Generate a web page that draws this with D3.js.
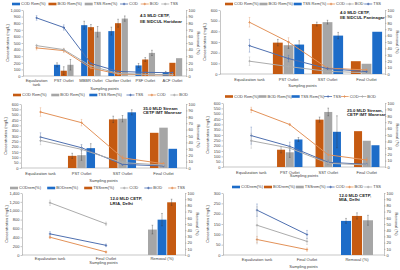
<!DOCTYPE html>
<html>
<head>
<meta charset="utf-8">
<script src="https://cdn.jsdelivr.net/npm/d3@7"></script>
<style>
body { margin: 0; background: #fff; }
svg { display: block; font-family: "Liberation Sans", Arial, sans-serif; }
.axis path, .axis line { stroke: #8c8c8c; stroke-width: 0.5; }
.axis text { font-size: 4px; fill: #404040; }
</style>
</head>
<body>
<svg width="400" height="270"></svg>
<script>
// category sets
const catsSix = ['Equalization tank', 'PST Outlet', 'MBBR Outlet', 'Clarifier Outlet', 'PSF Outlet', 'ACF Outlet'];
const catsFour = ['Equalization tank', 'PST Outlet', 'SST Outlet', 'Final Outlet'];
const catsThree = ['Equalization tank', 'Final Outlet', 'Removal (%)'];

// 4.5 MLD CETP, IIE SIDCUL Haridwar
const hwCodRem = [null, 17, 77, 68, 16, 6];
const hwBodRem = [null, 8, 74, 80, 25, 20];
const hwTssRem = [null, 17, 67, 87, 35, 27];
const hwCod = [880, 735, 190, 70, 55, 50];
const hwBod = [425, 385, 120, 30, 18, 15];
const hwTss = [460, 400, 150, 40, 25, 20];
const hwRemErr = [[0, 3, 6, 6, 3, 1], [0, 6, 4, 6, 3, 0], [0, 8, 8, 4, 4, 0]];
const hwConcErr = [[35, 40, 0, 0, 0, 0], [30, 30, 0, 0, 0, 0], [20, 20, 0, 0, 0, 0]];

// 4.0 MLD CETP, IIE SIDCUL Pantnagar
const pnCodRem = [null, 49, 78, 20];
const pnBodRem = [null, 45, 81, 16];
const pnTssRem = [null, 46, 60, 66];
const pnCod = [485, 300, 55, 38];
const pnBod = [120, 70, 25, 12];
const pnTss = [265, 145, 50, 22];
const pnRemErr = [[0, 5, 3, 0], [0, 5, 3, 0], [0, 6, 5, 0]];
const pnConcErr = [[45, 40, 10, 5], [40, 30, 10, 5], [60, 30, 10, 5]];

// 35.0 MLD Stream CETP IMT Manesar
const m35CodRem = [null, 19, 76, 55];
const m35BodRem = [null, 20, 77, 63];
const m35TssRem = [null, 31, 87, 30];
const m35Cod = [525, 425, 95, 40];
const m35Bod = [258, 175, 50, 28];
const m35Tss = [290, 190, 34, 19];
const m35RemErr = [[0, 4, 5, 0], [0, 8, 5, 0], [0, 7, 4, 0]];
const m35ConcErr = [[40, 30, 20, 10], [40, 40, 10, 5], [40, 30, 10, 5]];

// 25.0 MLD Stream, CETP IMT Manesar
const m25CodRem = [null, 27, 74, 56];
const m25BodRem = [null, 23, 86, 41];
const m25TssRem = [null, 43, 55, 34];
const m25Cod = [535, 398, 114, 66];
const m25Bod = [246, 177, 35, 19];
const m25Tss = [294, 193, 44, 25];
const m25RemErr = [[0, 5, 4, 0], [0, 8, 6, 0], [0, 3, 25, 0]];
const m25ConcErr = [[25, 10, 40, 20], [70, 30, 20, 10], [80, 40, 20, 10]];

// 12.0 MLD CETP, LRIA, Delhi
const lrCodRem = [null, null, 41];
const lrBodRem = [null, null, 57];
const lrTssRem = [null, null, 85];
const lrCod = [1180, 704, null];
const lrBod = [477, 219, null];
const lrTss = [401, 68, null];
const lrRemErr = [[0, 0, 7], [0, 0, 10], [0, 0, 5]];
const lrConcErr = [[60, 40, 0], [50, 30, 0], [30, 20, 0]];

// 12.0 MLD CETP, MIA, Delhi
const miCodRem = [null, null, 55];
const miBodRem = [null, null, 63];
const miTssRem = [null, null, 56];
const miCod = [217, 99, null];
const miBod = [75, 26, null];
const miTss = [144, 66, null];
const miRemErr = [[0, 0, 4], [0, 0, 5], [0, 0, 8]];
const miConcErr = [[30, 20, 0], [15, 8, 0], [90, 15, 0]];

const BLUE = '#1d6cc8', ORANGE = '#c55a11', GRAY = '#a6a6a6';
const LBLUE = '#4f70b0', LORANGE = '#e39259', LGRAY = '#acacac';

const panels = [
    {
        cats: catsSix, axL: 23, axR: 186, top: 10, bot: 76, xr: [23, 186], ymax: 1000, ystep: 100, group: 0.72,
        bars: [['COD Rem(%)', hwCodRem, hwRemErr[0], BLUE], ['BOD Rem(%)', hwBodRem, hwRemErr[1], ORANGE], ['TSS Rem(%)', hwTssRem, hwRemErr[2], GRAY]],
        lines: [['COD', hwCod, hwConcErr[0], LBLUE], ['BOD', hwBod, hwConcErr[1], LORANGE], ['TSS', hwTss, hwConcErr[2], LGRAY]],
        legend: [12, 178, 4], title: ['4.5 MLD CETP,', 'IIE SIDCUL Haridwar'], tx: 140, ty: 16.5, tdy: 6,
        labY: 81.5, spY: 90, wrap: true
    },
    {
        cats: catsFour, axL: 220, axR: 385, top: 10, bot: 74, xr: [230, 386], ymax: 600, ystep: 100, group: 0.8,
        bars: [['COD Rem(%)', pnCodRem, pnRemErr[0], ORANGE], ['BOD Rem(%)', pnBodRem, pnRemErr[1], GRAY], ['TSS Rem(%)', pnTssRem, pnRemErr[2], BLUE]],
        lines: [['COD', pnCod, pnConcErr[0], LORANGE], ['BOD', pnBod, pnConcErr[1], LGRAY], ['TSS', pnTss, pnConcErr[2], LBLUE]],
        legend: [225, 381, 4], title: ['4.0 MLD CETP,', 'IIE SIDCUL Pantnagar'], tx: 340, ty: 14, tdy: 4.5,
        labY: 80.5, spY: 86.5
    },
    {
        cats: catsFour, axL: 21, axR: 186, top: 104, bot: 168, xr: [20, 184], ymax: 600, ystep: 50, group: 0.66,
        bars: [['COD Rem(%)', m35CodRem, m35RemErr[0], ORANGE], ['BOD Rem(%)', m35BodRem, m35RemErr[1], GRAY], ['TSS Rem(%)', m35TssRem, m35RemErr[2], BLUE]],
        lines: [['TSS', m35Tss, m35ConcErr[2], LBLUE], ['COD', m35Cod, m35ConcErr[0], LORANGE], ['BOD', m35Bod, m35ConcErr[1], LGRAY]],
        legend: [13, 188, 95], title: ['35.0 MLD Stream', 'CETP IMT Manesar'], tx: 143, ty: 109.5, tdy: 4.5,
        labY: 174.5, spY: 181.5
    },
    {
        cats: catsFour, axL: 223, axR: 385, top: 103, bot: 167, xr: [232, 386], ymax: 600, ystep: 50, group: 0.66,
        bars: [['COD Rem(%)', m25CodRem, m25RemErr[0], ORANGE], ['BOD Rem(%)', m25BodRem, m25RemErr[1], GRAY], ['TSS Rem(%)', m25TssRem, m25RemErr[2], BLUE]],
        lines: [['TSS', m25Tss, m25ConcErr[2], LBLUE], ['COD', m25Cod, m25ConcErr[0], LORANGE], ['BOD', m25Bod, m25ConcErr[1], LGRAY]],
        legend: [225, 376, 96.5], title: ['25.0 MLD Stream,', 'CETP IMT Manesar'], tx: 347, ty: 111.5, tdy: 4.5,
        labY: 173.5, spY: 177
    },
    {
        cats: catsThree, axL: 22, axR: 185, top: 193, bot: 255, xr: [22, 190], ymax: 1400, ystep: 200, group: 0.5,
        bars: [['CODrem(%)', lrCodRem, lrRemErr[0], GRAY], ['BODrem(%)', lrBodRem, lrRemErr[1], BLUE], ['TSSrem(%)', lrTssRem, lrRemErr[2], ORANGE]],
        lines: [['COD', lrCod, lrConcErr[0], LGRAY], ['BOD', lrBod, lrConcErr[1], LBLUE], ['TSS', lrTss, lrConcErr[2], LORANGE]],
        legend: [10, 185, 188], title: ['12.0 MLD CETP,', 'LRIA, Delhi'], tx: 110, ty: 200, tdy: 4.5,
        labY: 259.5, spY: 263.5
    },
    {
        cats: catsThree, axL: 223, axR: 384, top: 193, bot: 255, xr: [232, 382], ymax: 300, ystep: 50, group: 0.64,
        bars: [['CODrem(%)', miCodRem, miRemErr[0], BLUE], ['BODrem(%)', miBodRem, miRemErr[1], ORANGE], ['TSSrem(%)', miTssRem, miRemErr[2], GRAY]],
        lines: [['COD', miCod, miConcErr[0], LBLUE], ['BOD', miBod, miConcErr[1], LORANGE], ['TSS', miTss, miConcErr[2], LGRAY]],
        legend: [232, 381, 187], title: ['12.0 MLD CETP,', 'MIA, Delhi'], tx: 339, ty: 196.5, tdy: 4.5,
        labY: 260.5, spY: 268
    }
];

const svg = d3.select('svg');

function errBar(g, cx, y1, y2) {
    g.append('line').attr('x1', cx).attr('x2', cx).attr('y1', y1).attr('y2', y2);
    g.append('line').attr('x1', cx - 0.8).attr('x2', cx + 0.8).attr('y1', y1).attr('y2', y1);
    g.append('line').attr('x1', cx - 0.8).attr('x2', cx + 0.8).attr('y1', y2).attr('y2', y2);
}

function drawPanel(p) {
    const g = svg.append('g');
    const x = d3.scaleBand().domain(p.cats).range(p.xr);
    const y = d3.scaleLinear().domain([0, p.ymax]).range([p.bot, p.top]);
    const yr = d3.scaleLinear().domain([0, 100]).range([p.bot, p.top]);
    const inner = d3.scaleBand()
        .domain(p.bars.map(b => b[0]))
        .range([0, x.bandwidth() * p.group])
        .paddingInner(0.08);
    const off = x.bandwidth() * (1 - p.group) / 2;
    const cx = c => x(c) + x.bandwidth() / 2;

    // axes
    g.append('g').attr('class', 'axis')
        .attr('transform', `translate(${p.axL},0)`)
        .call(d3.axisLeft(y).tickValues(d3.range(0, p.ymax + 1, p.ystep)).tickSize(1.5).tickPadding(1).tickSizeOuter(0));
    g.append('g').attr('class', 'axis')
        .attr('transform', `translate(${p.axR},0)`)
        .call(d3.axisRight(yr).tickValues(d3.range(0, 101, 10)).tickSize(1.5).tickPadding(1).tickSizeOuter(0));
    g.append('line')
        .attr('x1', p.axL).attr('x2', p.axR).attr('y1', p.bot).attr('y2', p.bot)
        .attr('stroke', '#8c8c8c').attr('stroke-width', 0.5);

    // bars
    const eg = g.append('g').attr('stroke', '#333').attr('stroke-width', 0.35);
    p.bars.forEach(b => {
        const data = p.cats.map((c, i) => ({c, v: b[1][i], e: b[2][i]})).filter(d => d.v != null);
        g.selectAll(null).data(data).join('rect')
            .attr('x', d => x(d.c) + off + inner(b[0]))
            .attr('y', d => yr(d.v))
            .attr('width', inner.bandwidth())
            .attr('height', d => yr(0) - yr(d.v))
            .attr('fill', b[3]);
        data.filter(d => d.e > 0).forEach(d => {
            errBar(eg, x(d.c) + off + inner(b[0]) + inner.bandwidth() / 2, yr(d.v + d.e), yr(d.v - d.e));
        });
    });
    g.append(() => eg.node());

    // lines
    p.lines.forEach(l => {
        const data = p.cats.map((c, i) => ({c, v: l[1][i], e: l[2][i]}));
        const lg = g.append('g');
        const le = lg.append('g').attr('stroke', l[3]).attr('stroke-width', 0.35);
        data.filter(d => d.v != null && d.e > 0).forEach(d => errBar(le, cx(d.c), y(d.v + d.e), y(d.v - d.e)));
        lg.append('path')
            .datum(data)
            .attr('fill', 'none')
            .attr('stroke', l[3])
            .attr('stroke-width', 1)
            .attr('d', d3.line().defined(d => d.v != null).x(d => cx(d.c)).y(d => y(d.v)));
        lg.selectAll(null).data(data.filter(d => d.v != null)).join('path')
            .attr('transform', d => `translate(${cx(d.c)},${y(d.v)})`)
            .attr('d', d3.symbol(d3.symbolCross, 3))
            .attr('fill', l[3]);
    });

    // category labels
    p.cats.forEach(c => {
        const t = g.append('text')
            .attr('x', cx(c)).attr('y', p.labY)
            .attr('text-anchor', 'middle')
            .attr('font-size', 4).attr('fill', '#404040');
        if (p.wrap && c === 'Equalization tank') {
            t.append('tspan').attr('x', cx(c)).text('Equalization');
            t.append('tspan').attr('x', cx(c)).attr('dy', 4.3).text('tank');
        } else {
            t.text(c);
        }
    });

    // axis titles
    const midY = (p.top + p.bot) / 2;
    g.append('text')
        .attr('transform', `translate(${p.axL - 14},${midY}) rotate(-90)`)
        .attr('text-anchor', 'middle').attr('font-size', 4).attr('fill', '#404040')
        .text('Concentration (mg/L)');
    g.append('text')
        .attr('transform', `translate(${p.axR + 11},${midY}) rotate(90)`)
        .attr('text-anchor', 'middle').attr('font-size', 4).attr('fill', '#404040')
        .text('Removal (%)');
    g.append('text')
        .attr('x', (p.axL + p.axR) / 2).attr('y', p.spY)
        .attr('text-anchor', 'middle').attr('font-size', 4).attr('fill', '#404040')
        .text('Sampling points');

    // plant annotation
    p.title.forEach((s, i) => {
        g.append('text')
            .attr('x', p.tx).attr('y', p.ty + i * p.tdy)
            .attr('font-size', 4.3).attr('font-weight', 'bold').attr('fill', '#222')
            .text(s);
    });

    // legend
    const items = p.bars.map(b => ({name: b[0], color: b[3], bar: true}))
        .concat(p.lines.map(l => ({name: l[0], color: l[3], bar: false})));
    const lgd = g.append('g');
    const nodes = items.map(it => {
        const ig = lgd.append('g');
        if (it.bar) {
            ig.append('rect').attr('x', 0).attr('y', -1.3).attr('width', 8).attr('height', 2.6).attr('fill', it.color);
        } else {
            ig.append('line').attr('x1', 0).attr('x2', 8).attr('y1', 0).attr('y2', 0)
                .attr('stroke', it.color).attr('stroke-width', 0.8);
            ig.append('path').attr('transform', 'translate(4,0)')
                .attr('d', d3.symbol(d3.symbolCross, 3)).attr('fill', it.color);
        }
        const t = ig.append('text').attr('x', 9).attr('y', 1.4)
            .attr('font-size', 4).attr('fill', '#404040').text(it.name);
        return {ig, w: 9 + t.node().getComputedTextLength()};
    });
    const total = d3.sum(nodes, n => n.w);
    const gap = (p.legend[1] - p.legend[0] - total) / (nodes.length - 1);
    let pos = p.legend[0];
    nodes.forEach(n => {
        n.ig.attr('transform', `translate(${pos},${p.legend[2]})`);
        pos += n.w + gap;
    });
}

panels.forEach(drawPanel);
</script>
</body>
</html>
